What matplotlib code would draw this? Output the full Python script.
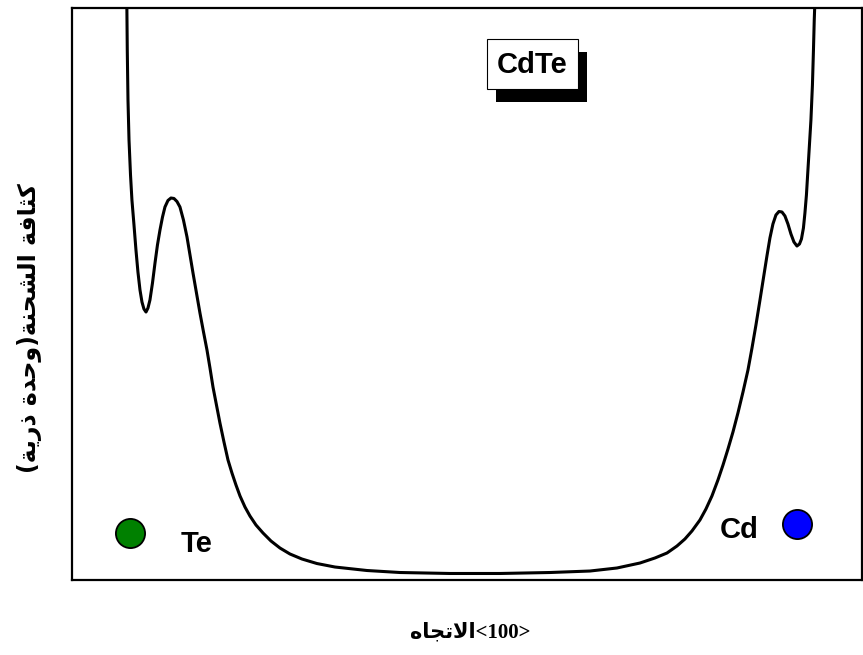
import matplotlib
matplotlib.use("Agg")
import matplotlib.pyplot as plt
from matplotlib.patches import Rectangle

# charge density profile along <100> (arbitrary units)
pos = [6.94, 7.00, 7.09, 7.22, 7.41, 7.59, 7.85, 8.10, 8.35, 8.61,
       8.86, 9.11, 9.37, 9.62, 9.87, 10.19, 10.51, 10.82, 11.14, 11.46,
       11.77, 12.15, 12.53, 12.91, 13.29, 13.67, 14.11, 14.56, 14.94, 15.32,
       15.76, 16.20, 16.65, 17.09, 17.47, 17.85, 18.29, 18.73, 19.24, 19.75,
       20.25, 20.76, 21.27, 21.90, 22.53, 23.29, 24.18, 25.19, 26.33, 27.59,
       29.11, 31.01, 33.29, 37.34, 41.52, 47.85, 54.18, 60.51, 65.57, 68.99,
       71.90, 73.80, 75.32, 76.58, 77.59, 78.48, 79.49, 80.25, 81.01, 81.77,
       82.41, 83.04, 83.67, 84.30, 84.94, 85.57, 86.08, 86.58, 87.09, 87.59,
       87.97, 88.35, 88.73, 89.11, 89.49, 89.87, 90.25, 90.63, 91.01, 91.39,
       91.77, 92.09, 92.34, 92.59, 92.78, 92.97, 93.16, 93.35, 93.54, 93.73,
       93.86, 93.96, 94.05]
rho = [101.40, 92.66, 83.92, 76.92, 70.80, 66.43, 62.06, 57.69, 53.85, 50.70,
       48.60, 47.38, 46.85, 47.55, 48.95, 51.92, 55.42, 58.57, 61.19, 63.46,
       65.21, 66.35, 66.78, 66.70, 66.17, 65.21, 62.94, 59.97, 56.82, 53.67,
       50.17, 46.68, 43.36, 40.21, 37.06, 33.74, 30.59, 27.45, 24.13, 20.98,
       18.71, 16.61, 14.69, 12.76, 11.19, 9.62, 8.22, 6.82, 5.59, 4.55,
       3.67, 2.88, 2.27, 1.66, 1.31, 1.14, 1.14, 1.31, 1.57, 2.10,
       2.97, 3.85, 4.72, 5.94, 7.17, 8.57, 10.49, 12.41, 14.69, 17.48,
       20.10, 22.90, 25.87, 29.20, 32.87, 36.71, 40.56, 44.58, 48.95, 53.32,
       56.64, 59.79, 62.24, 63.81, 64.42, 64.34, 63.64, 62.24, 60.49, 59.09,
       58.39, 58.74, 59.62, 61.54, 64.16, 67.31, 71.68, 76.05, 80.42, 86.54,
       92.66, 97.90, 101.40]

# atom sites
atoms = ["Te", "Cd"]
atom_x = [7.34, 91.77]
atom_y = [8.2, 9.8]
atom_colors = ["#008000", "#0000ff"]

title = "CdTe"
# pre-shaped Arabic (presentation forms, visual order)
xlabel = "\ufee9\ufe8e\ufea0\ufe97\ufefb\ufe8d<100>"
ylabel = ("(\ufe94\ufef3\ufead\ufeab \ufe93\ufeaa\ufea3\ufeed)"
          "\ufe94\ufee8\ufea4\ufeb8\ufedf\ufe8d \ufe94\ufed3\ufe8e\ufe9c\ufedb")

fig = plt.figure(figsize=(8.63, 6.55), dpi=100)
ax = fig.add_axes([0.0834, 0.1145, 0.9154, 0.8733])
ax.plot(pos, rho, color="black", lw=2.2, solid_joinstyle="round")
ax.set_xlim(0, 100)
ax.set_ylim(0, 100)
ax.set_xticks([])
ax.set_yticks([])
for s in ax.spines.values():
    s.set_linewidth(1.6)

for name, x, y, c in zip(atoms, atom_x, atom_y, atom_colors):
    ax.plot(x, y, "o", ms=21, mfc=c, mec="black", mew=1.3, clip_on=False)

ax.text(15.8, 6.3, "Te", fontsize=21, fontweight="bold",
        family="Liberation Sans", ha="center", va="center")
ax.text(84.4, 8.7, "Cd", fontsize=21, fontweight="bold",
        family="Liberation Sans", ha="center", va="center")

# framed title with drop shadow
ax.add_patch(Rectangle((0.5367, 0.836), 0.1153, 0.0876, transform=ax.transAxes,
                       facecolor="black", edgecolor="none", zorder=3))
ax.add_patch(Rectangle((0.525, 0.858), 0.1153, 0.0876, transform=ax.transAxes,
                       facecolor="white", edgecolor="black", lw=0.8, zorder=4))
ax.text(0.5827, 0.9, title, transform=ax.transAxes, fontsize=21,
        fontweight="bold", family="Liberation Sans", ha="center",
        va="center", zorder=5)

fig.text(470 / 863, 1 - 632 / 655, xlabel, fontsize=15, fontweight="bold",
         family=["Liberation Serif", "DejaVu Sans"], ha="center", va="center")
fig.text(29 / 863, 1 - 328 / 655, ylabel, fontsize=17, fontweight="bold",
         family=["DejaVu Sans"], rotation=90, ha="center", va="center")

fig.savefig("out.png", dpi=100)
